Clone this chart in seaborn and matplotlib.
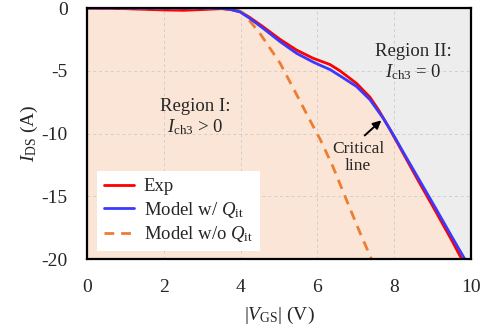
import matplotlib
matplotlib.use("Agg")
import matplotlib.pyplot as plt
import seaborn as sns
import pandas as pd

# Data
exp_x = [0, 1, 2, 2.5, 3, 3.5, 3.75, 4.0, 4.24, 4.59, 5.03, 5.46, 5.89, 6.33, 6.59, 7.02, 7.37, 7.6, 7.85, 8.15, 8.6, 9.1, 9.5, 9.76]
exp_y = [0, -0.05, -0.15, -0.18, -0.12, -0.05, -0.12, -0.3, -0.75, -1.5, -2.5, -3.35, -4.0, -4.5, -5.0, -6.0, -7.1, -8.15, -9.45, -11.1, -13.6, -16.3, -18.5, -20.0]

qit_x = [0, 1, 2, 3, 3.5, 3.72, 3.98, 4.24, 4.59, 5.03, 5.46, 5.89, 6.07, 6.33, 6.59, 7.02, 7.37, 7.72, 7.98, 8.24, 8.6, 9.11, 9.5, 9.84]
qit_y = [0, 0, 0, 0, -0.02, -0.1, -0.3, -0.82, -1.62, -2.68, -3.61, -4.3, -4.55, -4.9, -5.4, -6.25, -7.3, -8.8, -10.1, -11.5, -13.4, -16.1, -18.2, -20.0]

noqit_x = [0, 1, 2, 3, 3.7, 3.9, 4.07, 4.5, 5.03, 5.46, 5.8, 6.08, 6.4, 6.76, 7.11, 7.41]
noqit_y = [0, 0, 0, 0, 0, -0.1, -0.4, -2.0, -4.4, -6.9, -8.9, -10.5, -12.6, -15.3, -17.9, -20.0]

labels = ["Exp", r"Model w/ $Q_{\rm it}$", r"Model w/o $Q_{\rm it}$"]
x_ticks = [0, 2, 4, 6, 8, 10]
y_ticks = [0, -5, -10, -15, -20]

sns.set_style("white")
plt.rcParams["font.family"] = ["Liberation Serif", "DejaVu Serif"]
plt.rcParams["mathtext.fontset"] = "custom"
plt.rcParams["mathtext.rm"] = "Liberation Serif"
plt.rcParams["mathtext.it"] = "Liberation Serif:italic"
plt.rcParams["axes.unicode_minus"] = False

fig = plt.figure(figsize=(4.81, 3.36), dpi=100)
ax = fig.add_axes([0.181, 0.229, 0.798, 0.747])

ax.set_facecolor("#EDEDED")
ax.fill_between(qit_x, qit_y, -20, color="#FBE5D6", lw=0, zorder=0.5)

df_exp = pd.DataFrame({"x": exp_x, "y": exp_y})
df_q = pd.DataFrame({"x": qit_x, "y": qit_y})
df_n = pd.DataFrame({"x": noqit_x, "y": noqit_y})

kw = dict(solid_joinstyle="round", solid_capstyle="round")
sns.lineplot(data=df_exp, x="x", y="y", ax=ax, color="#FF0000", lw=2.0, label=labels[0], zorder=3, sort=False, **kw)
sns.lineplot(data=df_q, x="x", y="y", ax=ax, color="#3A3AFF", lw=2.0, label=labels[1], zorder=3.5, sort=False, **kw)
sns.lineplot(data=df_n, x="x", y="y", ax=ax, color="#ED7D31", lw=2.0, ls=(0, (3.5, 2.5)), label=labels[2], zorder=3, sort=False)

ax.set_xlim(0, 10)
ax.set_ylim(-20, 0)
ax.set_xticks(x_ticks)
ax.set_yticks(y_ticks)
ax.set_xticklabels([str(v) for v in x_ticks])
ax.set_yticklabels([str(v) for v in y_ticks])
ax.tick_params(axis="both", length=0, labelsize=14, pad=14)
ax.grid(True, ls=(0, (3, 3)), color="#CFCFCF", lw=0.7)
for gl in ax.get_xgridlines() + ax.get_ygridlines():
    gl.set_zorder(1)

for s in ax.spines.values():
    s.set_color("black")
    s.set_linewidth(1.6)
    s.set_zorder(5)

ax.set_xlabel(r"$|V_{\rm GS}|$ (V)", fontsize=14, labelpad=7)
ax.set_ylabel(r"$I_{\rm DS}$ (A)", fontsize=14, labelpad=1)

ax.text(2.81, -8.7, "Region I:\n" + r"$I_{\rm ch3}$ > 0", ha="center", va="center",
        fontsize=13.5, linespacing=1.15, zorder=4)
ax.text(8.49, -4.3, "Region II:\n" + r"$I_{\rm ch3}$ = 0", ha="center", va="center",
        fontsize=13.5, linespacing=1.15, zorder=4)
ax.text(7.06, -11.9, "Critical\nline", ha="center", va="center",
        fontsize=12.5, linespacing=1.1, zorder=4)
ax.annotate("", xy=(7.72, -8.8), xytext=(7.18, -10.3),
            arrowprops=dict(arrowstyle="-|>", color="black", lw=1.4, mutation_scale=12), zorder=4)

leg = ax.legend(loc="lower left", bbox_to_anchor=(0.026, 0.032), borderaxespad=0, fontsize=13.5,
                frameon=True, facecolor="white", edgecolor="none", framealpha=1, fancybox=False,
                handlelength=1.6, handletextpad=0.55, labelspacing=0.25, borderpad=0.35)
leg.set_zorder(6)

fig.savefig("out.png", dpi=100)
